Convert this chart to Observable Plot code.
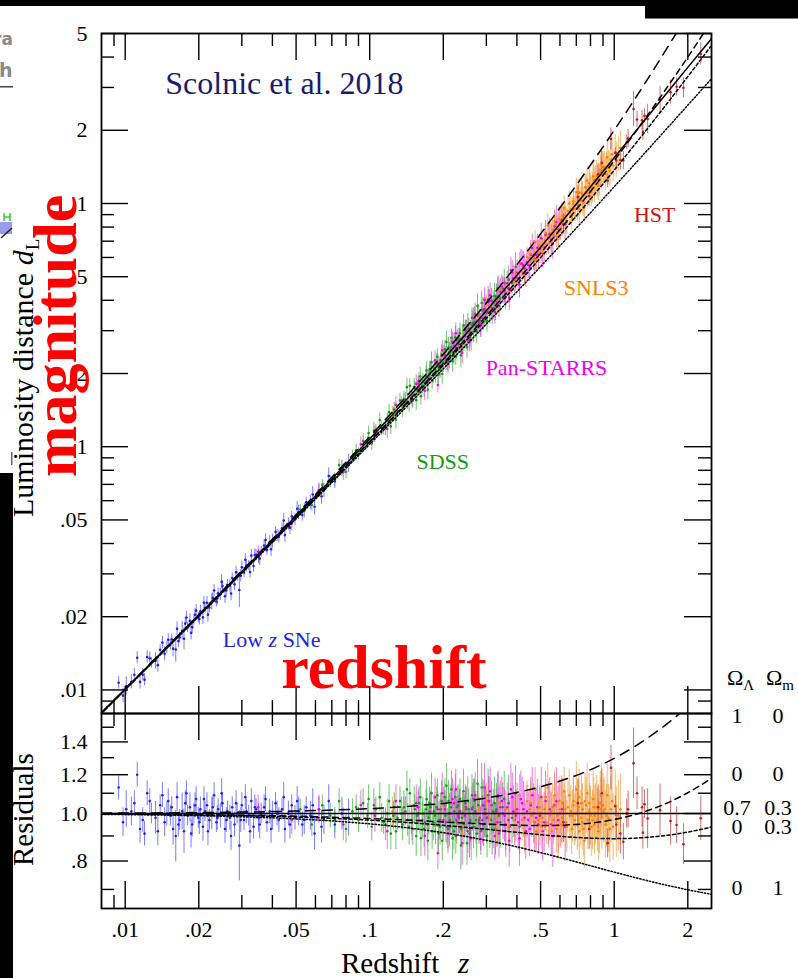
<!DOCTYPE html>
<html><head><meta charset="utf-8">
<script src="https://cdn.jsdelivr.net/npm/d3@7"></script>
<script src="https://cdn.jsdelivr.net/npm/@observablehq/plot@0.6"></script>
<style>
html,body{margin:0;padding:0;background:#fff;}
#wrap{position:relative;width:798px;height:978px;overflow:hidden;background:#fff;}
#wrap svg{position:absolute;left:0;top:0;}
</style></head><body><div id="wrap"></div>
<script>
// ---------- model curves: luminosity distance in units of c/H0 ----------
const zGrid = [0.008,0.01,0.015,0.02,0.03,0.05,0.07,0.1,0.15,0.2,0.3,0.4,0.5,0.6,0.7,0.8,0.9,1.0,1.25,1.5,1.75,2.0,2.25,2.5];
const dL_07_03 = [0.008050,0.010077,0.015174,0.020308,0.030690,0.051903,0.073704,0.107477,0.166522,0.228841,0.362553,0.507191,0.661479,0.824285,0.994621,1.171636,1.354594,1.542858,2.033393,2.547345,3.080118,3.628416,4.189809,4.762457];
const dL_1_0 = [0.008064,0.0101,0.015225,0.0204,0.0309,0.0525,0.0749,0.11,0.1725,0.24,0.39,0.56,0.75,0.96,1.19,1.44,1.71,2,2.8125,3.75,4.8125,6,7.3125,8.75];
const dL_0_0 = [0.008032,0.01005,0.0151125,0.0202,0.03045,0.05125,0.07245,0.105,0.16125,0.22,0.345,0.48,0.625,0.78,0.945,1.12,1.305,1.5,2.03125,2.625,3.28125,4,4.78125,5.625];
const dL_0_03 = [0.008027,0.010043,0.015096,0.02017,0.030383,0.051058,0.072058,0.104187,0.159353,0.21651,0.33662,0.464202,0.59896,0.740609,0.888889,1.043558,1.204382,1.371156,1.812742,2.287333,2.791564,3.325578,3.885142,4.469133];
const dL_0_1 = [0.008016,0.010025,0.015056,0.0201,0.030222,0.05061,0.071184,0.102381,0.155238,0.20911,0.31965,0.433568,0.55051,0.670178,0.79232,0.916718,1.04319,1.171573,1.5,1.837722,2.183375,2.535898,2.894449,3.258343];

// ---------- supernovae: [redshift, d_L / d_L(0.7,0.3), fractional error] ----------
const lowzSNe = [[0.0094,1.13,0.06],[0.0098,0.96,0.07],[0.0101,1.02,0.09],[0.0106,1.01,0.07],[0.0109,1.05,0.06],[0.0112,1.20,0.06],[0.0115,0.93,0.07],[0.0118,0.97,0.06],[0.0120,0.91,0.06],[0.0123,1.10,0.06],[0.0126,1.06,0.06],[0.0128,1.00,0.05],[0.0133,0.98,0.08],[0.0136,0.92,0.07],[0.0139,1.04,0.05],[0.0142,1.09,0.06],[0.0145,0.96,0.07],[0.0148,1.00,0.06],[0.0150,1.06,0.06],[0.0153,0.99,0.05],[0.0155,1.03,0.05],[0.0157,0.93,0.08],[0.0161,0.90,0.13],[0.0163,1.08,0.07],[0.0165,0.95,0.06],[0.0167,0.97,0.05],[0.0171,1.01,0.09],[0.0174,0.92,0.11],[0.0176,1.05,0.06],[0.0178,1.10,0.06],[0.0180,0.99,0.05],[0.0184,1.03,0.07],[0.0186,0.91,0.07],[0.0188,0.95,0.06],[0.0191,1.00,0.05],[0.0193,1.04,0.06],[0.0195,1.07,0.06],[0.0199,0.98,0.05],[0.0201,0.96,0.06],[0.0203,1.02,0.06],[0.0208,0.94,0.07],[0.0210,1.07,0.06],[0.0212,1.01,0.05],[0.0216,1.04,0.06],[0.0218,0.92,0.07],[0.0221,0.97,0.05],[0.0226,1.00,0.08],[0.0228,1.03,0.05],[0.0231,1.09,0.06],[0.0236,0.96,0.05],[0.0238,0.98,0.06],[0.0240,1.02,0.05],[0.0245,0.99,0.06],[0.0248,1.10,0.07],[0.0250,1.05,0.05],[0.0256,0.93,0.07],[0.0259,0.97,0.06],[0.0262,1.01,0.05],[0.0268,0.98,0.06],[0.0271,0.90,0.07],[0.0274,1.03,0.05],[0.0280,0.95,0.06],[0.0284,1.05,0.06],[0.0287,1.00,0.05],[0.0293,0.86,0.18],[0.0297,0.97,0.06],[0.0300,1.04,0.06],[0.0306,0.97,0.05],[0.0310,1.08,0.06],[0.0313,1.01,0.06],[0.0320,0.99,0.05],[0.0324,0.92,0.06],[0.0328,1.06,0.06],[0.0335,0.94,0.06],[0.0339,1.03,0.06],[0.0343,1.02,0.05],[0.0351,0.98,0.07],[0.0355,0.95,0.07],[0.0360,1.00,0.05],[0.0370,1.03,0.06],[0.0375,1.07,0.06],[0.0380,0.96,0.05],[0.0390,1.01,0.06],[0.0395,0.93,0.07],[0.0400,0.99,0.07],[0.0412,1.05,0.05],[0.0418,1.00,0.06],[0.0425,0.97,0.06],[0.0438,1.02,0.05],[0.0445,1.08,0.07],[0.0450,0.93,0.07],[0.0465,1.00,0.06],[0.0472,0.95,0.07],[0.0480,1.04,0.05],[0.0495,0.98,0.06],[0.0505,1.06,0.07],[0.0512,1.01,0.07],[0.0530,0.95,0.06],[0.0540,0.97,0.07],[0.0550,1.03,0.05],[0.0572,0.99,0.07],[0.0585,1.04,0.08],[0.0595,0.91,0.08],[0.0620,1.02,0.06],[0.0635,0.94,0.08],[0.0650,0.97,0.07],[0.0680,1.06,0.08],[0.0720,0.95,0.07],[0.0770,1.00,0.08],[0.0820,0.98,0.09]];
const sdssSNe = [[0.052,1.02,0.05],[0.058,0.95,0.06],[0.064,1.04,0.05],[0.069,0.99,0.06],[0.072,0.97,0.06],[0.075,1.06,0.06],[0.080,0.93,0.07],[0.085,1.01,0.06],[0.088,1.03,0.06],[0.090,0.97,0.06],[0.094,1.05,0.07],[0.098,0.99,0.06],[0.099,1.07,0.07],[0.102,0.94,0.07],[0.104,1.04,0.08],[0.106,1.02,0.06],[0.110,1.08,0.07],[0.112,0.98,0.07],[0.114,0.96,0.06],[0.116,0.95,0.08],[0.118,1.00,0.07],[0.120,1.06,0.08],[0.122,0.91,0.08],[0.125,0.99,0.07],[0.126,1.03,0.07],[0.128,0.92,0.09],[0.130,0.98,0.06],[0.133,1.06,0.07],[0.135,1.00,0.08],[0.136,0.95,0.08],[0.138,1.03,0.08],[0.140,1.01,0.07],[0.142,1.12,0.09],[0.143,0.97,0.08],[0.145,0.94,0.09],[0.146,1.10,0.07],[0.148,0.97,0.07],[0.150,0.93,0.08],[0.152,1.04,0.09],[0.153,1.02,0.07],[0.155,0.90,0.10],[0.156,0.99,0.09],[0.158,1.00,0.08],[0.159,1.05,0.08],[0.161,1.08,0.09],[0.162,0.89,0.09],[0.164,0.97,0.09],[0.165,1.00,0.08],[0.167,0.93,0.09],[0.168,0.96,0.07],[0.170,1.02,0.10],[0.171,1.07,0.09],[0.173,0.88,0.10],[0.174,0.98,0.08],[0.176,1.05,0.08],[0.177,1.03,0.08],[0.179,1.10,0.10],[0.180,0.92,0.09],[0.182,0.96,0.09],[0.183,1.01,0.08],[0.185,0.99,0.09],[0.186,0.95,0.10],[0.188,1.03,0.10],[0.189,1.09,0.08],[0.191,0.91,0.10],[0.192,0.97,0.09],[0.194,0.94,0.09],[0.195,1.02,0.08],[0.197,1.06,0.10],[0.198,0.88,0.10],[0.200,0.97,0.10],[0.201,1.04,0.09],[0.203,1.08,0.09],[0.204,0.99,0.08],[0.206,1.14,0.11],[0.207,0.94,0.09],[0.209,0.93,0.10],[0.210,1.06,0.10],[0.212,1.00,0.10],[0.213,0.97,0.08],[0.215,1.03,0.11],[0.216,1.12,0.09],[0.218,0.89,0.11],[0.219,0.96,0.09],[0.221,0.92,0.09],[0.222,1.01,0.10],[0.224,1.08,0.11],[0.225,0.90,0.09],[0.227,0.96,0.11],[0.228,1.03,0.10],[0.230,1.04,0.10],[0.231,0.98,0.09],[0.233,1.01,0.11],[0.234,1.07,0.10],[0.236,0.86,0.12],[0.237,0.93,0.09],[0.239,0.98,0.10],[0.240,1.00,0.11],[0.242,1.11,0.11],[0.243,0.95,0.10],[0.245,0.99,0.11],[0.246,1.05,0.09],[0.248,1.02,0.11],[0.250,0.87,0.11],[0.252,1.06,0.12],[0.254,1.02,0.10],[0.256,0.91,0.12],[0.257,0.93,0.10],[0.258,0.97,0.11],[0.262,1.09,0.10],[0.264,1.03,0.12],[0.266,0.94,0.11],[0.268,1.06,0.11],[0.270,1.01,0.10],[0.272,0.97,0.12],[0.274,0.91,0.12],[0.276,1.15,0.12],[0.278,1.04,0.11],[0.280,0.96,0.11],[0.282,0.98,0.10],[0.285,0.92,0.12],[0.287,1.13,0.12],[0.290,1.04,0.13],[0.292,0.95,0.11],[0.295,1.00,0.12],[0.297,1.02,0.12],[0.300,0.98,0.13],[0.302,0.90,0.11],[0.305,1.09,0.13],[0.308,1.06,0.12],[0.310,0.95,0.12],[0.314,0.97,0.12],[0.317,0.93,0.13],[0.320,1.01,0.11],[0.324,1.05,0.13],[0.327,0.93,0.13],[0.330,1.02,0.13],[0.334,1.08,0.12],[0.338,0.99,0.14],[0.342,0.96,0.13],[0.350,1.03,0.12],[0.355,1.07,0.14],[0.360,0.92,0.13],[0.370,1.05,0.14],[0.382,0.98,0.13],[0.395,1.10,0.14],[0.410,0.94,0.14]];
const ps1SNe = [[0.035,1.03,0.06],[0.048,0.97,0.07],[0.062,1.02,0.07],[0.078,0.95,0.08],[0.092,1.04,0.07],[0.105,0.99,0.08],[0.118,0.92,0.09],[0.128,1.06,0.08],[0.138,1.00,0.08],[0.149,0.96,0.09],[0.155,1.05,0.09],[0.158,1.03,0.08],[0.168,0.90,0.10],[0.172,0.95,0.10],[0.176,1.01,0.09],[0.185,1.08,0.09],[0.190,0.83,0.08],[0.190,1.02,0.09],[0.194,0.97,0.10],[0.198,1.10,0.10],[0.203,1.02,0.09],[0.205,0.96,0.10],[0.209,0.91,0.10],[0.212,0.94,0.10],[0.215,1.00,0.10],[0.218,1.07,0.10],[0.221,1.05,0.09],[0.225,1.12,0.10],[0.226,0.97,0.10],[0.230,0.99,0.10],[0.234,1.01,0.11],[0.239,0.87,0.11],[0.245,0.99,0.10],[0.248,1.03,0.10],[0.252,0.92,0.11],[0.257,0.96,0.11],[0.260,0.89,0.11],[0.262,1.02,0.11],[0.266,1.07,0.10],[0.270,1.09,0.11],[0.275,1.00,0.11],[0.280,0.97,0.11],[0.284,0.93,0.11],[0.289,0.97,0.12],[0.293,1.04,0.12],[0.295,1.13,0.12],[0.298,1.00,0.12],[0.302,0.98,0.11],[0.306,1.06,0.12],[0.311,1.11,0.12],[0.315,1.04,0.12],[0.320,0.95,0.12],[0.325,0.90,0.12],[0.329,1.01,0.11],[0.333,0.96,0.12],[0.335,1.09,0.12],[0.338,0.91,0.12],[0.342,1.03,0.13],[0.347,1.06,0.12],[0.351,1.00,0.13],[0.356,0.99,0.13],[0.360,0.95,0.13],[0.365,1.03,0.12],[0.369,0.97,0.13],[0.372,0.88,0.13],[0.374,0.94,0.13],[0.378,1.12,0.13],[0.383,1.08,0.12],[0.387,1.01,0.13],[0.392,0.97,0.13],[0.396,0.99,0.13],[0.401,1.02,0.13],[0.405,0.96,0.14],[0.410,0.89,0.14],[0.415,1.07,0.14],[0.420,1.05,0.13],[0.425,1.02,0.14],[0.430,0.98,0.14],[0.435,0.92,0.14],[0.440,1.01,0.13],[0.445,0.97,0.14],[0.451,0.93,0.14],[0.456,1.04,0.14],[0.462,1.09,0.14],[0.468,1.00,0.15],[0.473,0.96,0.15],[0.479,0.98,0.15],[0.485,1.03,0.14],[0.490,0.95,0.15],[0.497,0.99,0.15],[0.503,1.08,0.15],[0.510,0.92,0.15],[0.517,0.96,0.15],[0.524,1.06,0.15],[0.538,1.00,0.16],[0.545,1.02,0.16],[0.553,0.95,0.16],[0.561,0.90,0.16],[0.570,1.04,0.16],[0.580,1.06,0.17],[0.590,0.97,0.17],[0.600,1.00,0.17],[0.610,1.02,0.17],[0.630,0.94,0.18]];
const snlsSNe = [[0.124,1.01,0.07],[0.16,0.97,0.07],[0.20,1.04,0.08],[0.24,0.96,0.08],[0.28,1.02,0.08],[0.30,1.06,0.09],[0.31,0.98,0.09],[0.33,0.93,0.09],[0.34,1.05,0.09],[0.36,1.02,0.09],[0.37,0.94,0.09],[0.39,0.97,0.10],[0.40,1.01,0.10],[0.41,1.09,0.10],[0.42,0.97,0.10],[0.43,0.91,0.10],[0.44,1.06,0.10],[0.45,1.02,0.10],[0.455,1.05,0.11],[0.46,0.99,0.11],[0.47,0.96,0.11],[0.475,1.12,0.11],[0.48,0.92,0.11],[0.49,0.97,0.11],[0.495,1.03,0.10],[0.50,1.00,0.11],[0.505,0.94,0.11],[0.51,0.98,0.11],[0.52,1.02,0.11],[0.525,1.08,0.11],[0.53,0.96,0.11],[0.535,1.13,0.12],[0.54,0.95,0.12],[0.545,0.99,0.12],[0.552,1.01,0.11],[0.555,0.92,0.12],[0.56,1.03,0.12],[0.565,0.97,0.12],[0.57,1.09,0.12],[0.577,1.04,0.12],[0.58,0.93,0.12],[0.585,0.99,0.12],[0.59,0.90,0.12],[0.595,1.06,0.12],[0.60,1.02,0.12],[0.605,0.95,0.12],[0.612,0.98,0.13],[0.615,1.05,0.12],[0.62,1.00,0.12],[0.624,1.11,0.12],[0.63,1.02,0.13],[0.635,0.96,0.13],[0.64,0.94,0.13],[0.647,1.03,0.13],[0.655,1.09,0.13],[0.658,0.99,0.12],[0.665,1.01,0.13],[0.67,0.93,0.13],[0.675,0.99,0.13],[0.68,1.04,0.13],[0.682,1.06,0.13],[0.69,0.97,0.13],[0.694,1.00,0.14],[0.70,1.12,0.14],[0.706,0.95,0.13],[0.71,0.97,0.14],[0.715,1.03,0.14],[0.718,1.08,0.14],[0.72,0.92,0.14],[0.73,0.98,0.14],[0.735,1.05,0.14],[0.74,0.96,0.14],[0.742,1.02,0.13],[0.75,0.93,0.14],[0.755,0.88,0.14],[0.76,1.06,0.14],[0.765,1.00,0.14],[0.768,1.04,0.14],[0.775,1.10,0.15],[0.78,0.97,0.15],[0.79,1.05,0.15],[0.793,1.01,0.14],[0.80,0.99,0.15],[0.806,0.94,0.15],[0.815,0.97,0.15],[0.82,1.07,0.15],[0.825,1.03,0.15],[0.83,0.95,0.15],[0.834,0.99,0.15],[0.84,1.00,0.15],[0.848,1.03,0.16],[0.855,0.97,0.16],[0.862,0.92,0.15],[0.87,0.96,0.16],[0.876,1.05,0.16],[0.88,1.02,0.16],[0.885,1.09,0.16],[0.89,0.98,0.16],[0.90,1.04,0.16],[0.905,1.01,0.16],[0.915,1.02,0.16],[0.92,0.95,0.17],[0.93,0.99,0.16],[0.936,1.09,0.16],[0.945,0.98,0.17],[0.952,0.97,0.17],[0.96,0.93,0.17],[0.97,1.02,0.17],[0.98,1.06,0.17],[0.99,0.94,0.17],[1.01,1.04,0.18],[1.02,0.96,0.18],[1.04,0.99,0.18],[1.06,1.02,0.18]];
const hstSNe = [[0.62,0.96,0.10],[0.71,1.05,0.12],[0.79,0.93,0.10],[0.86,1.03,0.11],[0.89,1.10,0.12],[0.94,0.87,0.07],[0.97,1.24,0.11],[1.01,1.035,0.05],[1.02,0.95,0.08],[1.06,0.91,0.10],[1.09,0.876,0.09],[1.125,1.00,0.07],[1.14,1.02,0.09],[1.20,1.266,0.18],[1.24,1.10,0.08],[1.30,1.03,0.10],[1.31,0.914,0.08],[1.33,1.045,0.07],[1.37,0.977,0.15],[1.54,1.016,0.13],[1.70,0.965,0.12],[1.80,0.947,0.09],[1.92,0.866,0.10],[2.26,0.978,0.11]];

// ---------- ticks ----------
const xMajorTicks = [0.01,0.02,0.05,0.1,0.2,0.5,1,2];
const xTickLabels = [".01",".02",".05",".1",".2",".5","1","2"];
const xMinorTicks = [0.009,0.03,0.04,0.06,0.07,0.08,0.09,0.3,0.4,0.6,0.7,0.8,0.9];
const yTopMajor = [0.01,0.02,0.05,0.1,0.2,0.5,1,2,5];
const yTopLabels = [".01",".02",".05",".1",".2",".5","1","2","5"];
const yTopMinor = [0.009,0.03,0.04,0.06,0.07,0.08,0.09,0.3,0.4,0.6,0.7,0.8,0.9,3,4];
const yResMajor = [0.8,1.0,1.2,1.4];
const yResLabels = [".8","1.0","1.2","1.4"];
const yResMinor = [0.7,0.9,1.1,1.3,1.5];

// ---------- labels (data coordinates) ----------
const surveyNames = ["Low z SNe","SDSS","Pan-STARRS","SNLS3","HST"];
const labelZ = [0.0399,0.200,0.531,0.848,1.472];
const labelD = [0.0161,0.0864,0.210,0.448,0.893];
const modelOmegaL = ["1","0","0.7","0","0"];
const modelOmegaM = ["0","0","0.3","0.3","1"];

// ---------- styling ----------
const FONT = "'Liberation Serif','Times New Roman',serif";
const surveys = [
  {data: lowzSNe, color: "#1f1fe6", bar: "#4d4dff"},
  {data: sdssSNe, color: "#169a16", bar: "#3cb43c"},
  {data: ps1SNe,  color: "#f000f0", bar: "#f040f0"},
  {data: snlsSNe, color: "#ff7f00", bar: "#f0a040"},
  {data: hstSNe,  color: "#d41010", bar: "#c04040"}
];
const modelStyles = [
  {d: dL_1_0,  dash: "10,7"},
  {d: dL_0_0,  dash: "6,4.5"},
  {d: dL_07_03, dash: null},
  {d: dL_0_03, dash: "3,2.5"},
  {d: dL_0_1,  dash: "1.3,2"}
];

function lcdmAt(z) {
  let i = zGrid.findIndex(g => g >= z);
  if (i <= 0) i = 1;
  const t = (Math.log(z) - Math.log(zGrid[i-1])) / (Math.log(zGrid[i]) - Math.log(zGrid[i-1]));
  return Math.exp(Math.log(dL_07_03[i-1]) + t * (Math.log(dL_07_03[i]) - Math.log(dL_07_03[i-1])));
}
function rows(arr) {
  return arr.map(([z, r, e]) => {
    const m = lcdmAt(z);
    return {z, r, rlo: r / (1 + e), rhi: r * (1 + e), d: r * m, dlo: m * r / (1 + e), dhi: m * r * (1 + e)};
  });
}

const W = 798, H = 978, ML = 101, MR = 87;
const TOP_T = 33, TOP_B = 713, RES_B = 908;
const PW = W - ML - MR;

function tickMarks(xMaj, xMin, yMaj, yMin, ph) {
  const L = 27, S = 13, st = {stroke: "black", strokeWidth: 1.4};
  return [
    Plot.ruleX(xMaj, {...st, insetBottom: ph - L}), Plot.ruleX(xMaj, {...st, insetTop: ph - L}),
    Plot.ruleX(xMin, {...st, insetBottom: ph - S}), Plot.ruleX(xMin, {...st, insetTop: ph - S}),
    Plot.ruleY(yMaj, {...st, insetRight: PW - L}), Plot.ruleY(yMaj, {...st, insetLeft: PW - L}),
    Plot.ruleY(yMin, {...st, insetRight: PW - S}), Plot.ruleY(yMin, {...st, insetLeft: PW - S})
  ];
}

const svgStyle = {background: "none", fontFamily: FONT, fontSize: "22px", overflow: "visible"};

// ---------- top panel ----------
const topMarks = [];
surveys.forEach(s => {
  topMarks.push(Plot.ruleX(rows(s.data), {x: "z", y1: "dlo", y2: "dhi", stroke: s.bar, strokeOpacity: 0.75, strokeWidth: 1, clip: true}));
});
surveys.forEach(s => {
  topMarks.push(Plot.dot(rows(s.data), {x: "z", y: "d", r: 1.3, fill: s.color, stroke: "none", clip: true}));
});
modelStyles.forEach(m => {
  const pts = zGrid.map((z, i) => ({z, d: m.d[i]}));
  topMarks.push(Plot.line(pts, {x: "z", y: "d", stroke: "black", strokeWidth: 1.5, strokeDasharray: m.dash || undefined, curve: "monotone-x", clip: true}));
});
topMarks.push(...tickMarks(xMajorTicks, xMinorTicks, yTopMajor, yTopMinor, TOP_B - TOP_T));
topMarks.push(Plot.frame({stroke: "black", strokeWidth: 1.8}));
topMarks.push(Plot.text(yTopMajor, {y: d => d, text: (d, i) => yTopLabels[i], frameAnchor: "left", textAnchor: "end", dx: -14, fontSize: 22, fontFamily: FONT, fill: "black"}));

const topPlot = Plot.plot({
  width: W, height: H, marginLeft: ML, marginRight: MR, marginTop: TOP_T, marginBottom: H - TOP_B,
  x: {type: "log", domain: [0.008, 2.5], axis: null},
  y: {type: "log", domain: [0.008, 5], axis: null},
  style: svgStyle,
  marks: topMarks
});

// ---------- residual panel ----------
const resMarks = [];
surveys.forEach(s => {
  resMarks.push(Plot.ruleX(rows(s.data), {x: "z", y1: "rlo", y2: "rhi", stroke: s.bar, strokeOpacity: 0.75, strokeWidth: 1, clip: true}));
});
surveys.forEach(s => {
  resMarks.push(Plot.dot(rows(s.data), {x: "z", y: "r", r: 1.3, fill: s.color, stroke: "none", clip: true}));
});
modelStyles.forEach(m => {
  const pts = zGrid.map((z, i) => ({z, q: m.d[i] / dL_07_03[i]}));
  resMarks.push(Plot.line(pts, {x: "z", y: "q", stroke: "black", strokeWidth: 1.5, strokeDasharray: m.dash || undefined, curve: "monotone-x", clip: true}));
});
resMarks.push(...tickMarks(xMajorTicks, xMinorTicks, yResMajor, yResMinor, RES_B - TOP_B));
resMarks.push(Plot.frame({stroke: "black", strokeWidth: 1.8}));
resMarks.push(Plot.text(yResMajor, {y: d => d, text: (d, i) => yResLabels[i], frameAnchor: "left", textAnchor: "end", dx: -14, fontSize: 22, fontFamily: FONT, fill: "black"}));
resMarks.push(Plot.text(xMajorTicks, {x: d => d, text: (d, i) => xTickLabels[i], frameAnchor: "bottom", dy: 28, fontSize: 22, fontFamily: FONT, fill: "black"}));

const resPlot = Plot.plot({
  width: W, height: H, marginLeft: ML, marginRight: MR, marginTop: TOP_B, marginBottom: H - RES_B,
  x: {type: "log", domain: [0.008, 2.5], axis: null},
  y: {type: "log", domain: [0.64, 1.6], axis: null},
  style: svgStyle,
  marks: resMarks
});

const wrap = document.getElementById("wrap");
wrap.appendChild(topPlot);
wrap.appendChild(resPlot);

// ---------- overlay: titles, annotations, legend ----------
function scaleFn(plot, name) {
  const s = plot.scale(name);
  if (s && typeof s.apply === "function") return v => s.apply(v);
  return d3.scaleLog().domain(s.domain).range(s.range);
}
const sx = scaleFn(topPlot, "x"), sy = scaleFn(topPlot, "y");
const ov = d3.create("svg").attr("width", W).attr("height", H)
  .style("font-family", FONT).style("overflow", "hidden");

// page fragments around the figure
ov.append("rect").attr("x", 0).attr("y", 0).attr("width", W).attr("height", 6).attr("fill", "black");
ov.append("rect").attr("x", 645).attr("y", 0).attr("width", W - 645).attr("height", 18.5).attr("fill", "black");
ov.append("rect").attr("x", 0).attr("y", 473).attr("width", 13).attr("height", H - 473).attr("fill", "black");
ov.append("text").attr("x", -7).attr("y", 45).attr("font-family", "'DejaVu Sans',sans-serif").attr("font-weight", "bold").attr("font-size", 17).attr("fill", "#8a8a8a").text("ra");
ov.append("text").attr("x", -1).attr("y", 77).attr("font-family", "'DejaVu Sans',sans-serif").attr("font-weight", "bold").attr("font-size", 19).attr("fill", "#8a8a8a").text("h");
ov.append("rect").attr("x", 0).attr("y", 86).attr("width", 13).attr("height", 1.5).attr("fill", "#444");
ov.append("rect").attr("x", 0).attr("y", 222).attr("width", 12).attr("height", 12).attr("fill", "#9a9af0");
ov.append("path").attr("d", "M4,213V221M10,213V221M4,217H10").attr("stroke", "#3c3").attr("stroke-width", 1.5).attr("fill", "none");
ov.append("path").attr("d", "M1,238L12,228").attr("stroke", "#222").attr("stroke-width", 1.5);
ov.append("rect").attr("x", 11).attr("y", 452).attr("width", 1.5).attr("height", 13).attr("fill", "#666");

// axis titles
const yt = ov.append("text").attr("transform", "translate(33,517) rotate(-90)").attr("font-size", 30).attr("fill", "black");
yt.append("tspan").text("Luminosity distance  ");
yt.append("tspan").attr("font-style", "italic").text("d");
yt.append("tspan").attr("font-size", 19).attr("dy", 6).text("L");
ov.append("text").attr("transform", "translate(33,866) rotate(-90)").attr("font-size", 29).attr("fill", "black").text("Residuals");
const xt = ov.append("text").attr("x", 341).attr("y", 973).attr("font-size", 29).attr("fill", "black");
xt.append("tspan").text("Redshift");
xt.append("tspan").attr("x", 458).attr("font-style", "italic").text("z");

// paper reference
ov.append("text").attr("x", sx(0.01466)).attr("y", sy(3.11)).attr("dominant-baseline", "central")
  .attr("font-size", 32).attr("fill", "#1b1b6e").text("Scolnic et al. 2018");

// survey labels
surveyNames.forEach((name, i) => {
  const t = ov.append("text").attr("x", sx(labelZ[i])).attr("y", sy(labelD[i]))
    .attr("text-anchor", "middle").attr("dominant-baseline", "central")
    .attr("font-size", 22).attr("fill", surveys[i].color);
  if (name.includes(" z ")) {
    t.append("tspan").text("Low ");
    t.append("tspan").attr("font-style", "italic").text("z");
    t.append("tspan").text(" SNe");
  } else t.text(name);
});

// Omega legend
const lg = ov.append("g").attr("font-size", 22).attr("fill", "black");
const om1 = lg.append("text").attr("x", 727).attr("y", 685);
om1.append("tspan").text("\u03A9"); om1.append("tspan").attr("font-size", 15).attr("dy", 5).text("\u039B");
const om2 = lg.append("text").attr("x", 766).attr("y", 685);
om2.append("tspan").text("\u03A9"); om2.append("tspan").attr("font-size", 15).attr("dy", 5).text("m");
const rowY = [723, 781, 815, 834, 895];
modelOmegaL.forEach((v, i) => {
  lg.append("text").attr("x", 737).attr("y", rowY[i]).attr("text-anchor", "middle").text(v);
  lg.append("text").attr("x", 778).attr("y", rowY[i]).attr("text-anchor", "middle").text(modelOmegaM[i]);
});

// red overlay words
ov.append("text").attr("transform", "translate(76,336) rotate(-90)").attr("text-anchor", "middle")
  .attr("font-size", 62).attr("font-weight", "bold").attr("fill", "#ff0000").text("magnitude");
ov.append("text").attr("x", 384).attr("y", 688).attr("text-anchor", "middle")
  .attr("font-size", 62).attr("font-weight", "bold").attr("fill", "#ff0000").text("redshift");

wrap.appendChild(ov.node());
</script></body></html>
